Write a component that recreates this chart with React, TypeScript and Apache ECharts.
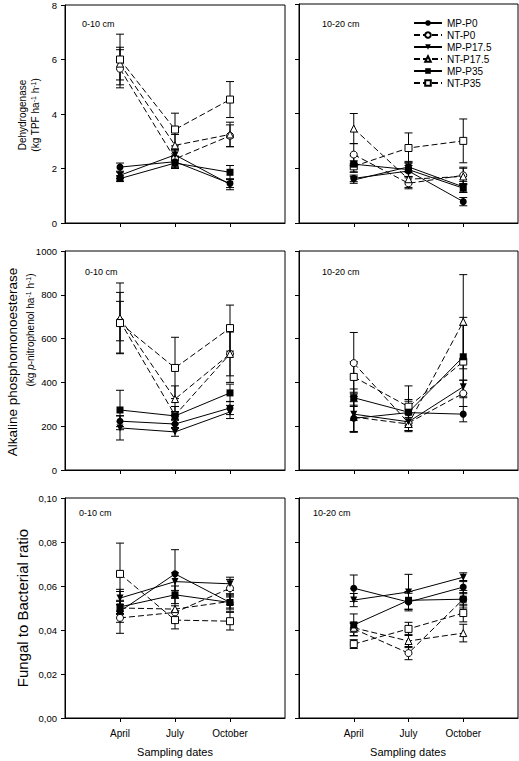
import React, { useEffect, useRef } from 'react';
import * as echarts from 'echarts';

const FONT = '"Liberation Sans", Arial, sans-serif';

const seriesNames = ['MP-P0', 'NT-P0', 'MP-P17.5', 'NT-P17.5', 'MP-P35', 'NT-P35'];
const months = ['April', 'July', 'October'];
const depthLabels = ['0-10 cm', '10-20 cm'];

// Dehydrogenase (kg TPF ha-1 h-1), rows follow seriesNames, columns follow months
const dhMean010 = [
  [2.05, 2.25, 1.45],
  [5.66, 2.35, 3.2],
  [1.75, 2.5, 1.42],
  [5.85, 2.85, 3.25],
  [1.63, 2.2, 1.86],
  [6.0, 3.43, 4.53],
];
const dhErr010 = [
  [0.15, 0.2, 0.15],
  [0.7, 0.3, 0.4],
  [0.12, 0.2, 0.2],
  [0.6, 0.4, 0.45],
  [0.1, 0.2, 0.25],
  [0.93, 0.6, 0.66],
];
const dhMean1020 = [
  [1.63, 1.9, 0.78],
  [2.5, 1.45, 1.74],
  [1.57, 2.05, 1.32],
  [3.45, 1.6, 1.7],
  [2.15, 1.95, 1.27],
  [2.07, 2.74, 3.0],
];
const dhErr1020 = [
  [0.12, 0.2, 0.15],
  [0.4, 0.2, 0.3],
  [0.12, 0.2, 0.2],
  [0.55, 0.3, 0.3],
  [0.3, 0.25, 0.15],
  [0.2, 0.55, 0.8],
];

// Alkaline phosphomonoesterase
const apMean010 = [
  [223, 210, 283],
  [680, 250, 530],
  [192, 174, 265],
  [694, 324, 530],
  [274, 247, 352],
  [671, 466, 648],
];
const apErr010 = [
  [25, 20, 30],
  [90, 40, 100],
  [55, 20, 30],
  [160, 60, 130],
  [90, 20, 40],
  [140, 140, 105],
];
const apMean1020 = [
  [236, 262, 255],
  [488, 215, 350],
  [255, 220, 380],
  [242, 210, 677],
  [330, 264, 517],
  [425, 289, 495],
];
const apErr1020 = [
  [60, 60, 35],
  [140, 40, 60],
  [80, 40, 30],
  [70, 30, 215],
  [40, 50, 180],
  [70, 95, 165],
];

// Fungal to bacterial ratio
const fbMean010 = [
  [0.0485, 0.0655, 0.0525],
  [0.0455, 0.048, 0.059],
  [0.0545, 0.062, 0.061],
  [0.05, 0.0495, 0.053],
  [0.0505, 0.056, 0.0525],
  [0.0655, 0.0445, 0.044],
];
const fbErr010 = [
  [0.01, 0.011, 0.003],
  [0.002, 0.003, 0.004],
  [0.003, 0.004, 0.003],
  [0.003, 0.005, 0.003],
  [0.003, 0.004, 0.004],
  [0.014, 0.004, 0.004],
];
const fbMean1020 = [
  [0.059, 0.0527, 0.0595],
  [0.0405, 0.0295, 0.054],
  [0.0536, 0.0573, 0.064],
  [0.041, 0.035, 0.0386],
  [0.0423, 0.0535, 0.054],
  [0.0336, 0.0405, 0.0477],
];
const fbErr1020 = [
  [0.006, 0.004, 0.003],
  [0.003, 0.003, 0.004],
  [0.003, 0.008, 0.002],
  [0.002, 0.003, 0.004],
  [0.005, 0.004, 0.003],
  [0.002, 0.003, 0.004],
];

const symbols = ['circle', 'circle', 'triangle', 'triangle', 'rect', 'rect'];
const symbolRotations = [0, 0, 180, 0, 0, 0];

const rows = [
  { top: 4, height: 219, max: 8, interval: 2, fmt: (v: number) => String(v), data: [[dhMean010, dhErr010], [dhMean1020, dhErr1020]] },
  { top: 251, height: 219, max: 1000, interval: 200, fmt: (v: number) => String(v), data: [[apMean010, apErr010], [apMean1020, apErr1020]] },
  { top: 498, height: 220, max: 0.1, interval: 0.02, fmt: (v: number) => v.toFixed(2).replace('.', ','), data: [[fbMean010, fbErr010], [fbMean1020, fbErr1020]] },
];
const cols = [
  { left: 65, width: 220 },
  { left: 299, width: 219 },
];

export default function App() {
  const ref = useRef<HTMLDivElement>(null);
  useEffect(() => {
    if (!ref.current) return;
    const chart = echarts.init(ref.current, undefined, { renderer: 'svg' });
    const grid: any[] = [];
    const xAxis: any[] = [];
    const yAxis: any[] = [];
    const series: any[] = [];
    const graphic: any[] = [];
    const cats = ['', ...months, ''];
    let idx = 0;
    rows.forEach((row, r) => {
      cols.forEach((col, c) => {
        grid.push({
          left: col.left, top: row.top, width: col.width, height: row.height,
          show: true, borderColor: '#000', borderWidth: 1, backgroundColor: 'transparent',
        });
        xAxis.push({
          type: 'category', gridIndex: idx, data: cats, boundaryGap: false,
          axisLine: { lineStyle: { color: '#000', width: 1 } },
          axisTick: { show: true, length: 4, inside: false, interval: (i: number) => i >= 1 && i <= 3, lineStyle: { color: '#000' } },
          axisLabel: {
            show: r === 2, interval: (i: number) => i >= 1 && i <= 3, margin: 10,
            fontSize: 10, fontFamily: FONT, color: '#000',
          },
          splitLine: { show: false },
        });
        yAxis.push({
          type: 'value', gridIndex: idx, min: 0, max: row.max, interval: row.interval,
          axisLine: { show: true, lineStyle: { color: '#000', width: 1 } },
          axisTick: { show: true, length: 4, inside: false, lineStyle: { color: '#000' } },
          axisLabel: { show: c === 0, margin: 8, fontSize: 9.5, fontFamily: FONT, color: '#000', formatter: row.fmt },
          splitLine: { show: false },
        });
        const [mean, err] = row.data[c];
        const errData: any[] = [];
        seriesNames.forEach((name, s) => {
          mean[s].forEach((v: number, m: number) => {
            errData.push([m + 1, v - err[s][m], v + err[s][m]]);
          });
        });
        series.push({
          type: 'custom', xAxisIndex: idx, yAxisIndex: idx, silent: true, z: 1,
          encode: { x: 0, y: [1, 2] },
          data: errData,
          renderItem: (params: any, api: any) => {
            const x = api.value(0);
            const p1 = api.coord([x, api.value(1)]);
            const p2 = api.coord([x, api.value(2)]);
            const w = 4;
            const style = { stroke: '#000', lineWidth: 1 };
            return {
              type: 'group',
              children: [
                { type: 'line', shape: { x1: p1[0], y1: p1[1], x2: p2[0], y2: p2[1] }, style },
                { type: 'line', shape: { x1: p1[0] - w, y1: p1[1], x2: p1[0] + w, y2: p1[1] }, style },
                { type: 'line', shape: { x1: p2[0] - w, y1: p2[1], x2: p2[0] + w, y2: p2[1] }, style },
              ],
            };
          },
        });
        seriesNames.forEach((name, s) => {
          const open = s % 2 === 1;
          series.push({
            type: 'line', name, xAxisIndex: idx, yAxisIndex: idx, z: open ? 3 : 4,
            data: mean[s].map((v: number, m: number) => [m + 1, v]),
            symbol: symbols[s], symbolSize: 7, symbolRotate: symbolRotations[s],
            showAllSymbol: true,
            lineStyle: { color: '#000', width: 1, type: open ? [6, 3] : 'solid' },
            itemStyle: { color: open ? '#fff' : '#000', borderColor: '#000', borderWidth: open ? 1 : 0 },
            emphasis: { disabled: true },
          });
        });
        graphic.push({
          type: 'text',
          x: c === 0 ? (r === 1 ? 85 : r === 2 ? 79 : 82) : (r === 2 ? 313 : 322),
          y: r === 0 ? 24 : r === 1 ? 272 : 513,
          style: { text: depthLabels[c], fontSize: 9, fontFamily: FONT, fill: '#000', align: 'left', verticalAlign: 'middle' },
        });
        idx++;
      });
    });

    const sup = { fontSize: 7, fontFamily: FONT, verticalAlign: 'top', fill: '#000' };
    graphic.push(
      { type: 'text', x: 22, y: 115, rotation: Math.PI / 2, style: { text: 'Dehydrogenase', fontSize: 10, fontFamily: FONT, fill: '#000', align: 'center', verticalAlign: 'middle' } },
      { type: 'text', x: 35, y: 115, rotation: Math.PI / 2, style: { text: '(kg TPF ha{s|-1} h{s|-1})', fontSize: 10, fontFamily: FONT, fill: '#000', align: 'center', verticalAlign: 'middle', rich: { s: sup } } },
      { type: 'text', x: 12, y: 362, rotation: Math.PI / 2, style: { text: 'Alkaline phosphomonoesterase', fontSize: 13.5, fontFamily: FONT, fill: '#000', align: 'center', verticalAlign: 'middle' } },
      { type: 'text', x: 30, y: 330, rotation: Math.PI / 2, style: { text: '(kg {i|p}-nitrophenol ha{s|-1} h{s|-1})', fontSize: 10, fontFamily: FONT, fill: '#000', align: 'center', verticalAlign: 'middle', rich: { s: sup, i: { fontSize: 10, fontFamily: FONT, fontStyle: 'italic', fill: '#000' } } } },
      { type: 'text', x: 22, y: 608, rotation: Math.PI / 2, style: { text: 'Fungal to Bacterial ratio', fontSize: 15, fontFamily: FONT, fill: '#000', align: 'center', verticalAlign: 'middle' } },
      { type: 'text', x: 175, y: 752, style: { text: 'Sampling dates', fontSize: 11, fontFamily: FONT, fill: '#000', align: 'center', verticalAlign: 'middle' } },
      { type: 'text', x: 408, y: 752, style: { text: 'Sampling dates', fontSize: 11, fontFamily: FONT, fill: '#000', align: 'center', verticalAlign: 'middle' } },
    );

    chart.setOption({
      animation: false,
      backgroundColor: '#fff',
      grid, xAxis, yAxis, series, graphic,
      legend: {
        data: seriesNames,
        orient: 'vertical',
        left: 408,
        top: 13,
        itemWidth: 28,
        itemHeight: 7,
        itemGap: 2,
        textStyle: { fontSize: 10, fontFamily: FONT, color: '#000' },
        selectedMode: false,
      },
    });
    return () => chart.dispose();
  }, []);
  return <div ref={ref} style={{ position: 'absolute', left: 0, top: 0, width: 519, height: 761 }} />;
}
